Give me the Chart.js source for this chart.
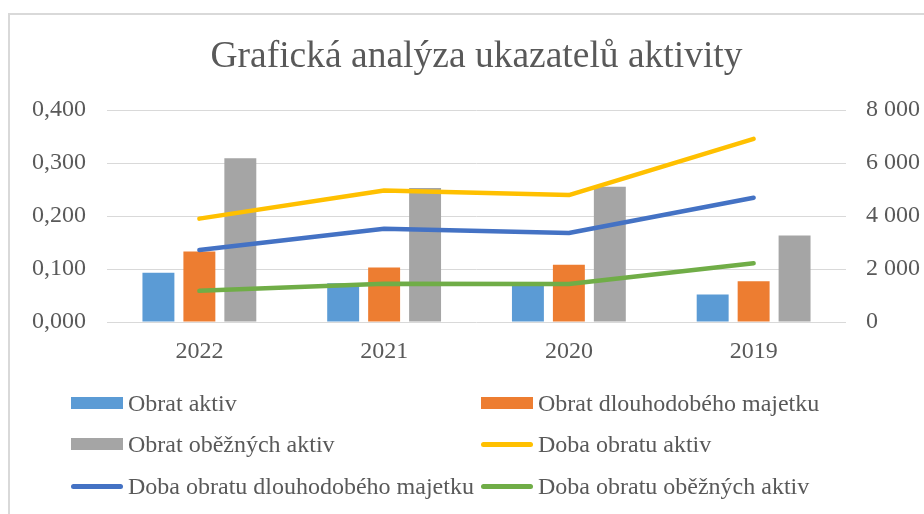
<!DOCTYPE html>
<html lang="cs">
<head>
<meta charset="utf-8">
<title>Grafická analýza ukazatelů aktivity</title>
<script src="https://cdn.jsdelivr.net/npm/chart.js@4.4.1/dist/chart.umd.min.js"></script>
<style>
  html, body { margin: 0; padding: 0; background: #fff; overflow: hidden; }
  #wrap { position: relative; width: 924px; height: 514px; }
  #frame {
    position: absolute; left: 8px; top: 13px; width: 1000px; height: 600px;
    border-left: 2px solid #d9d9d9; border-top: 2px solid #d9d9d9;
  }
  #chart { position: absolute; left: 0; top: 0; }
  .legend-item {
    position: absolute; height: 30px; display: flex; align-items: center;
    font-family: "Liberation Serif", "Times New Roman", serif; font-size: 24px;
    color: #595959; white-space: nowrap;
  }
  .swatch { width: 52px; margin-right: 5px; flex: none; }
</style>
</head>
<body>
<div id="wrap">
  <div id="frame"></div>
  <canvas id="chart" width="924" height="514"></canvas>
  <div id="legend"></div>
</div>
<script>
// Roky (kategorie)
const categories = ['2022', '2021', '2020', '2019'];

// Obraty (levá osa)
const obratAktiv = [0.093, 0.073, 0.075, 0.052];
const obratDlouhodobehoMajetku = [0.133, 0.103, 0.108, 0.077];
const obratObeznychAktiv = [0.309, 0.253, 0.255, 0.163];

// Doby obratu ve dnech (pravá osa)
const dobaObratuAktiv = [3900, 4960, 4790, 6910];
const dobaObratuDlouhodobehoMajetku = [2720, 3520, 3360, 4690];
const dobaObratuObeznychAktiv = [1175, 1440, 1430, 2220];

// Popisky os
const leftTicks = [0, 0.1, 0.2, 0.3, 0.4];
const rightTicks = [0, 2000, 4000, 6000, 8000];

const textColor = '#595959';
const serif = '"Liberation Serif", "Times New Roman", serif';

function barSet(label, data, color) {
  return {
    type: 'bar', label, data, yAxisID: 'y', order: 1,
    backgroundColor: color, borderWidth: 0,
    categoryPercentage: 0.665, barPercentage: 0.78
  };
}

function lineSet(label, data, color) {
  return {
    type: 'line', label, data, yAxisID: 'y1', order: 0,
    borderColor: color, backgroundColor: color, borderWidth: 4.5,
    pointRadius: 0, tension: 0, borderCapStyle: 'round', borderJoinStyle: 'round'
  };
}

const datasets = [
  barSet('Obrat aktiv', obratAktiv, '#5B9BD5'),
  barSet('Obrat dlouhodobého majetku', obratDlouhodobehoMajetku, '#ED7D31'),
  barSet('Obrat oběžných aktiv', obratObeznychAktiv, '#A5A5A5'),
  lineSet('Doba obratu aktiv', dobaObratuAktiv, '#FFC000'),
  lineSet('Doba obratu dlouhodobého majetku', dobaObratuDlouhodobehoMajetku, '#4472C4'),
  lineSet('Doba obratu oběžných aktiv', dobaObratuObeznychAktiv, '#70AD47')
];

const chart = new Chart(document.getElementById('chart'), {
  data: { labels: categories, datasets },
  options: {
    responsive: false,
    animation: false,
    layout: { padding: { left: 0, right: 0, top: 0, bottom: 142 } },
    plugins: {
      legend: { display: false },
      tooltip: { enabled: false },
      title: {
        display: true,
        fullSize: false,
        text: 'Grafická analýza ukazatelů aktivity',
        color: textColor,
        font: { family: serif, size: 37.5, weight: 'normal' },
        padding: { top: 35, bottom: 30 }
      }
    },
    scales: {
      x: {
        grid: { display: false, drawTicks: false },
        border: { display: false },
        ticks: { color: textColor, font: { family: serif, size: 24 }, padding: 15.5 },
        afterFit: s => { s.height = 50; }
      },
      y: {
        position: 'left',
        min: leftTicks[0], max: leftTicks[leftTicks.length - 1],
        grid: { color: '#d9d9d9', lineWidth: 1, drawTicks: false },
        border: { display: false },
        afterBuildTicks: s => { s.ticks = leftTicks.map(v => ({ value: v })); },
        ticks: {
          color: textColor, font: { family: serif, size: 24 }, padding: 21,
          callback: v => v.toFixed(3).replace('.', ',')
        },
        afterFit: s => { s.width = 107; }
      },
      y1: {
        position: 'right',
        min: rightTicks[0], max: rightTicks[rightTicks.length - 1],
        grid: { display: false, drawTicks: false },
        border: { display: false },
        afterBuildTicks: s => { s.ticks = rightTicks.map(v => ({ value: v })); },
        ticks: {
          color: textColor, font: { family: serif, size: 24 }, padding: 20,
          callback: v => String(v).replace(/\B(?=(\d{3})+(?!\d))/g, ' ')
        },
        afterFit: s => { s.width = 78; }
      }
    }
  }
});

// Legenda ve dvou sloupcích (HTML)
const legendCols = [71, 481];
const legendRows = [403, 444, 486];
const legend = document.getElementById('legend');
chart.data.datasets.forEach((ds, i) => {
  const item = document.createElement('div');
  item.className = 'legend-item';
  item.style.left = legendCols[i % 2] + 'px';
  item.style.top = (legendRows[Math.floor(i / 2)] - 15) + 'px';
  const sw = document.createElement('span');
  sw.className = 'swatch';
  if (ds.type === 'bar') {
    sw.style.height = '12px';
    sw.style.background = ds.backgroundColor;
  } else {
    sw.style.height = '5px';
    sw.style.borderRadius = '3px';
    sw.style.background = ds.borderColor;
  }
  const txt = document.createElement('span');
  txt.textContent = ds.label;
  item.appendChild(sw);
  item.appendChild(txt);
  legend.appendChild(item);
});
</script>
</body>
</html>
